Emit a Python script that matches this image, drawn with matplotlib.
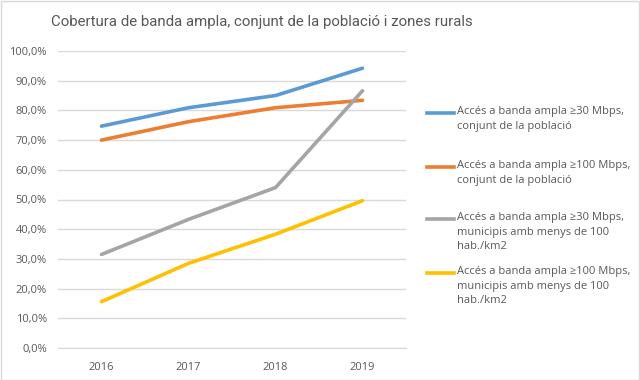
import matplotlib.pyplot as plt
from matplotlib.lines import Line2D
from matplotlib.ticker import FuncFormatter

years = ['2016', '2017', '2018', '2019']
s30_total = [74.7, 80.9, 85.0, 94.2]
s100_total = [70.0, 76.2, 80.9, 83.4]
s30_rural = [31.5, 43.3, 54.0, 86.6]
s100_rural = [15.6, 28.5, 38.3, 49.6]

labels = [
    'Accés a banda ampla ≥30 Mbps,\nconjunt de la població',
    'Accés a banda ampla ≥100 Mbps,\nconjunt de la població',
    'Accés a banda ampla ≥30 Mbps,\nmunicipis amb menys de 100\nhab./km2',
    'Accés a banda ampla ≥100 Mbps,\nmunicipis amb menys de 100\nhab./km2',
]
colors = ['#5b9bd5', '#ed7d31', '#a5a5a5', '#ffc000']
series = [s30_total, s100_total, s30_rural, s100_rural]

plt.rcParams['font.family'] = ['Open Sans', 'DejaVu Sans']

W, H = 640, 380
fig = plt.figure(figsize=(6.4, 3.8), dpi=100)
ax = fig.add_axes([58 / W, 1 - 348 / H, 348 / W, 297 / H])

x = range(len(years))
for vals, c in zip(series, colors):
    ax.plot(x, vals, color=c, linewidth=2.6, solid_capstyle='round')

ax.set_xlim(-0.5, len(years) - 0.5)
ax.set_ylim(0, 100)
ax.set_yticks(range(0, 101, 10))
ax.yaxis.set_major_formatter(FuncFormatter(lambda v, p: f'{v:.1f}%'.replace('.', ',')))
ax.set_xticks(list(x))
ax.set_xticklabels(years)
ax.grid(axis='y', color='#d9d9d9', linewidth=1)
ax.set_axisbelow(True)
for s in ['top', 'right', 'left']:
    ax.spines[s].set_visible(False)
ax.spines['bottom'].set_color('#d9d9d9')
ax.tick_params(length=0, labelsize=8, colors='#595959', pad=8)
ax.tick_params(axis='x', pad=10)

fig.text(262 / W, 1 - 22 / H, 'Cobertura de banda ampla, conjunt de la població i zones rurals',
         ha='center', va='center', fontsize=10.8, color='#595959',
         family=['Roboto', 'Open Sans'])

# legend
leg_y = [113, 167, 219, 273]
for lab, c, yy in zip(labels, colors, leg_y):
    fig.add_artist(Line2D([427 / W, 454 / W], [1 - yy / H, 1 - yy / H], color=c, linewidth=2.6,
                          transform=fig.transFigure))
    fig.text(457 / W, 1 - (yy - 7) / H, lab, ha='left', va='top', fontsize=8,
             color='#595959', linespacing=1.45)

fig.add_artist(plt.Rectangle((0.001, 0.001), 0.997, 0.997, fill=False, edgecolor='#d9d9d9',
                             linewidth=1, transform=fig.transFigure))

fig.savefig('out.png', dpi=100)
